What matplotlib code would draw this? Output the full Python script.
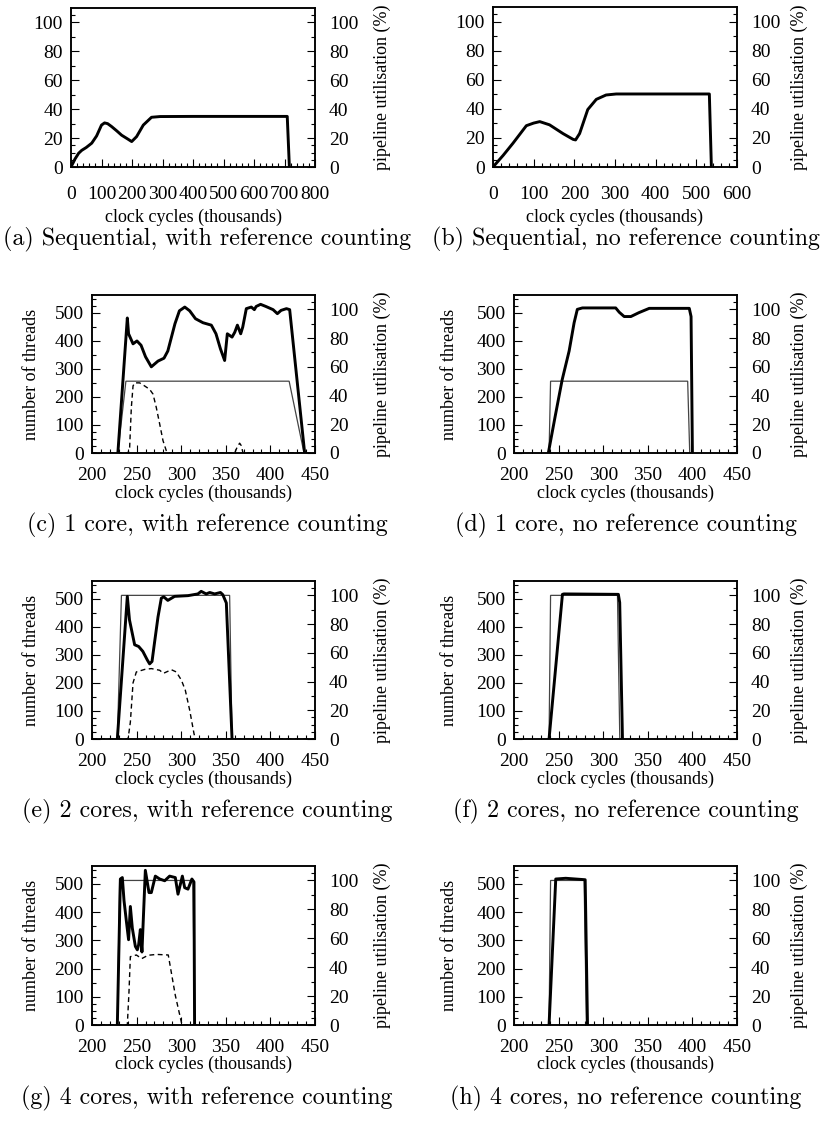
import matplotlib
matplotlib.use("Agg")
import matplotlib.pyplot as plt
from matplotlib.ticker import MultipleLocator, FixedLocator

# ---------------- data (cycles in thousands) ----------------
# (a) sequential, with reference counting
a_cyc = [0, 6, 13, 25, 35, 50, 68, 84, 100, 110, 120, 133, 150, 166, 185, 199, 215, 237, 264, 292, 400, 500, 600, 709, 716]
a_util = [0, 2.5, 5.5, 9.5, 11.5, 13.5, 16.5, 21.5, 29, 30.5, 30, 28, 25, 22, 19.5, 17.6, 21, 29, 34.4, 34.9, 35, 35, 35, 35, 0]

# (b) sequential, no reference counting
b_cyc = [0, 25, 49, 70, 82, 100, 115, 139, 172, 197, 203, 213, 233, 254, 278, 303, 400, 532, 537]
b_util = [0, 8, 16.3, 24, 28.4, 30.2, 31.2, 29, 23, 19, 18.6, 23, 39.5, 46.5, 49.5, 50.2, 50.2, 50.2, 0]

# (c) 1 core, with reference counting
c_util_cyc = [229, 239.6, 241, 246, 250.4, 255, 260, 266.5, 274, 280.7, 285, 293, 298, 304, 309.5,
              316, 324.4, 333.8, 339, 344, 348.7, 351.7, 357, 360, 363, 366.7, 369, 373, 378.6,
              382, 384, 389, 395, 403, 407.8, 412, 418, 421.6, 438.4]
c_util = [0, 94, 83, 76, 78, 75, 67, 60, 64, 66, 71, 90, 99, 101.6, 99,
          93.5, 90.7, 89, 83, 72.5, 64.4, 83, 80.7, 84, 89, 83, 87.7, 100.5, 101.6,
          99.8, 102, 103.5, 102, 99.8, 97, 99.3, 100.5, 99.8, 0]
c_thr_cyc = [229, 238, 421, 437.7]
c_threads = [0, 256, 256, 0]
c_wait_cyc = [200, 240.4, 242.2, 244.1, 246, 247.8, 253.4, 259, 264.6, 268.4, 272.1, 275.9, 279.6, 283.3,
              285.2, 360, 362.6, 365.5, 367.4, 369.3, 450]
c_waiting = [0, 0, 20, 162, 239, 250, 250, 239, 227, 210, 162, 103, 44, 8,
             0, 0, 20, 35, 26, 0, 0]

# (d) 1 core, no reference counting
d_util_cyc = [238.5, 246, 254, 261.8, 267.4, 271, 276.7, 314, 318, 323.5, 331, 340, 351.6, 396.5, 398.5, 400]
d_util = [0, 25, 51, 71, 90.7, 100, 101, 101, 98, 95, 95, 97.7, 100.7, 100.7, 95, 0]
d_thr_cyc = [239.3, 241, 394.7, 397]
d_threads = [0, 256, 256, 0]

# (e) 2 cores, with reference counting
e_util_cyc = [228.4, 239.6, 242, 247.8, 252.3, 257, 262, 264.6, 267.3, 270, 274, 277.7, 280.4, 285,
              292.6, 307.6, 318.7, 322.4, 328, 332, 337.5, 344, 346.6, 350.6, 357]
e_util = [0, 99.3, 83, 65.6, 64.4, 61, 55, 52.3, 54, 66.7, 85, 98, 99, 96.5,
          99.3, 99.8, 101, 102.8, 101, 102, 101, 102, 100.5, 94.7, 0]
e_thr_cyc = [228.4, 233, 354.3, 357]
e_threads = [0, 512, 512, 0]
e_wait_cyc = [200, 240.4, 243, 246, 249.7, 259, 266.5, 275.9, 280, 289, 294.5, 300.2, 304.6, 309.5, 314.3, 315.8, 450]
e_waiting = [0, 0, 60, 200, 239, 248, 251, 245, 234, 247, 239, 210, 174, 103, 20, 0, 0]

# (f) 2 cores, no reference counting
f_util_cyc = [239.3, 254.3, 256, 317, 318.5, 321.6]
f_util = [0, 100.7, 101, 100.7, 95, 0]
f_thr_cyc = [239.3, 241, 316, 318.6]
f_threads = [0, 512, 512, 0]

# (g) 4 cores, with reference counting
g_util_cyc = [228.4, 231.8, 234, 235.9, 238.5, 241, 243, 245.2, 248.6, 250.8, 252.3, 254.2, 256,
              259.8, 263.9, 266.5, 271, 275.9, 281.5, 287, 293.4, 296.4, 301.3, 303.9, 307.6, 312, 314.3, 315]
g_util = [0, 101, 102, 86, 72, 59, 82, 67, 54.4, 52, 55.6, 66, 50.5,
          107, 91.6, 91.6, 103, 101, 99.8, 103, 102, 90.5, 103, 95, 94, 101, 99, 0]
g_thr_cyc = [228.4, 231, 313.2, 315]
g_threads = [0, 512, 512, 0]
g_wait_cyc = [200, 239.6, 241.5, 243, 249.7, 255.7, 262.8, 272.5, 285.5, 293.4, 300.9, 450]
g_waiting = [0, 0, 120, 242, 248, 235, 247, 250, 248, 105, 0, 0]

# (h) 4 cores, no reference counting
h_util_cyc = [239.3, 246.8, 258, 279.8, 282.4]
h_util = [0, 101, 101.5, 100.5, 0]
h_thr_cyc = [239.3, 241, 278.6, 281.2]
h_threads = [0, 512, 512, 0]

captions = [
    "(a) Sequential, with reference counting",
    "(b) Sequential, no reference counting",
    "(c) 1 core, with reference counting",
    "(d) 1 core, no reference counting",
    "(e) 2 cores, with reference counting",
    "(f) 2 cores, no reference counting",
    "(g) 4 cores, with reference counting",
    "(h) 4 cores, no reference counting",
]

# ---------------- figure ----------------
W, H = 836, 1135
DPI = 100
plt.rcParams['font.family'] = ['Liberation Serif', 'DejaVu Serif']
plt.rcParams['font.size'] = 13
fig = plt.figure(figsize=(W / DPI, H / DPI), dpi=DPI)

FS = 13
TICK_FS = 14
CAP_FS = 17.3
THICK = 2.1
FRAME = 1.1


def px_axes(l, r, t, b):
    return fig.add_axes([l / W, 1 - b / H, (r - l) / W, (b - t) / H])


def style_axis(ax, ax2, xmin, xmax, xmaj, xmin_step, left_max, left_major, left_minor,
               has_left_label, xpad):
    ax.set_xlim(xmin, xmax)
    ax.xaxis.set_major_locator(MultipleLocator(xmaj))
    ax.xaxis.set_minor_locator(MultipleLocator(xmin_step))
    ax.set_ylim(0, left_max)
    ax.yaxis.set_major_locator(FixedLocator(left_major))
    ax.yaxis.set_minor_locator(FixedLocator(left_minor))
    ax2.set_ylim(0, 110)
    ax2.yaxis.set_major_locator(FixedLocator([0, 20, 40, 60, 80, 100]))
    ax2.yaxis.set_minor_locator(FixedLocator([5, 10, 15, 30, 50, 70, 90, 105]))
    for a in (ax, ax2):
        for s in a.spines.values():
            s.set_linewidth(FRAME)
    ax.tick_params(axis='both', which='both', direction='in', top=False, right=False,
                   labelsize=TICK_FS, width=0.8)
    ax.tick_params(axis='both', which='major', length=6)
    ax.tick_params(axis='both', which='minor', length=3)
    ax.tick_params(axis='x', pad=xpad)
    ax.tick_params(axis='y', pad=6)
    ax2.tick_params(axis='y', which='both', direction='in', left=False, right=True,
                    labelsize=TICK_FS, width=0.8, pad=10)
    ax2.tick_params(axis='y', which='major', length=6)
    ax2.tick_params(axis='y', which='minor', length=3)
    ax.set_xlabel("clock cycles (thousands)", fontsize=FS)
    ax2.set_ylabel("pipeline utilisation (%)", fontsize=FS)
    if has_left_label:
        ax.set_ylabel("number of threads", fontsize=FS)


panels = [
    # key, l, r, t, b
    ('a', 71, 315, 8, 167),
    ('b', 493, 737, 7, 167),
    ('c', 92, 315, 295, 453),
    ('d', 514, 737, 295, 453),
    ('e', 92, 315, 581, 739),
    ('f', 514, 737, 581, 739),
    ('g', 92, 315, 866, 1025),
    ('h', 514, 737, 866, 1025),
]

xlabel_y = {0: 217, 1: 493, 2: 779, 3: 1064}
caption_y = {0: 239, 1: 525, 2: 811, 3: 1098}
left_ylabel_x = {0: 32, 1: 449}
right_ylabel_x = {0: 382, 1: 799}
caption_x = {0: 207, 1: 626}

util_data = {'a': (a_cyc, a_util), 'b': (b_cyc, b_util), 'c': (c_util_cyc, c_util),
             'd': (d_util_cyc, d_util), 'e': (e_util_cyc, e_util), 'f': (f_util_cyc, f_util),
             'g': (g_util_cyc, g_util), 'h': (h_util_cyc, h_util)}
thr_data = {'c': (c_thr_cyc, c_threads), 'd': (d_thr_cyc, d_threads), 'e': (e_thr_cyc, e_threads),
            'f': (f_thr_cyc, f_threads), 'g': (g_thr_cyc, g_threads), 'h': (h_thr_cyc, h_threads)}
wait_data = {'c': (c_wait_cyc, c_waiting), 'e': (e_wait_cyc, e_waiting), 'g': (g_wait_cyc, g_waiting)}

for i, (key, l, r, t, b) in enumerate(panels):
    row, col = i // 2, i % 2
    ax = px_axes(l, r, t, b)
    ax2 = ax.twinx()
    if row == 0:
        xmax = 800 if key == 'a' else 600
        style_axis(ax, ax2, 0, xmax, 100, 20, 110, [0, 20, 40, 60, 80, 100],
                   [5, 10, 15, 30, 50, 70, 90, 105], False, 14)
    else:
        style_axis(ax, ax2, 200, 450, 50, 10, 563.2, [0, 100, 200, 300, 400, 500],
                   [25, 50, 75, 150, 250, 350, 450, 525, 550], True, 10)
    if key in thr_data:
        x, y = thr_data[key]
        ax.plot(x, y, color='#444444', lw=0.9, solid_joinstyle='miter')
    if key in wait_data:
        x, y = wait_data[key]
        ax.plot(x, y, color='black', lw=1.0, ls=(0, (3.5, 2.5)))
    x, y = util_data[key]
    ax2.plot(x, y, color='black', lw=THICK, solid_joinstyle='round')

    hgt = b - t
    wid = r - l
    ax.xaxis.set_label_coords(0.5, (b - xlabel_y[row]) / hgt)
    ax.xaxis.label.set_va('center')
    ax2.yaxis.set_label_coords((right_ylabel_x[col] - l) / wid, 0.5)
    ax2.yaxis.label.set_va('center')
    if row > 0:
        ax.yaxis.set_label_coords((left_ylabel_x[col] - l) / wid, 0.5)
        ax.yaxis.label.set_va('center')
    fig.text(caption_x[col] / W, 1 - caption_y[row] / H, captions[i], family='cmr10',
             fontsize=CAP_FS, ha='center', va='center')

fig.savefig("out.png", dpi=DPI)
